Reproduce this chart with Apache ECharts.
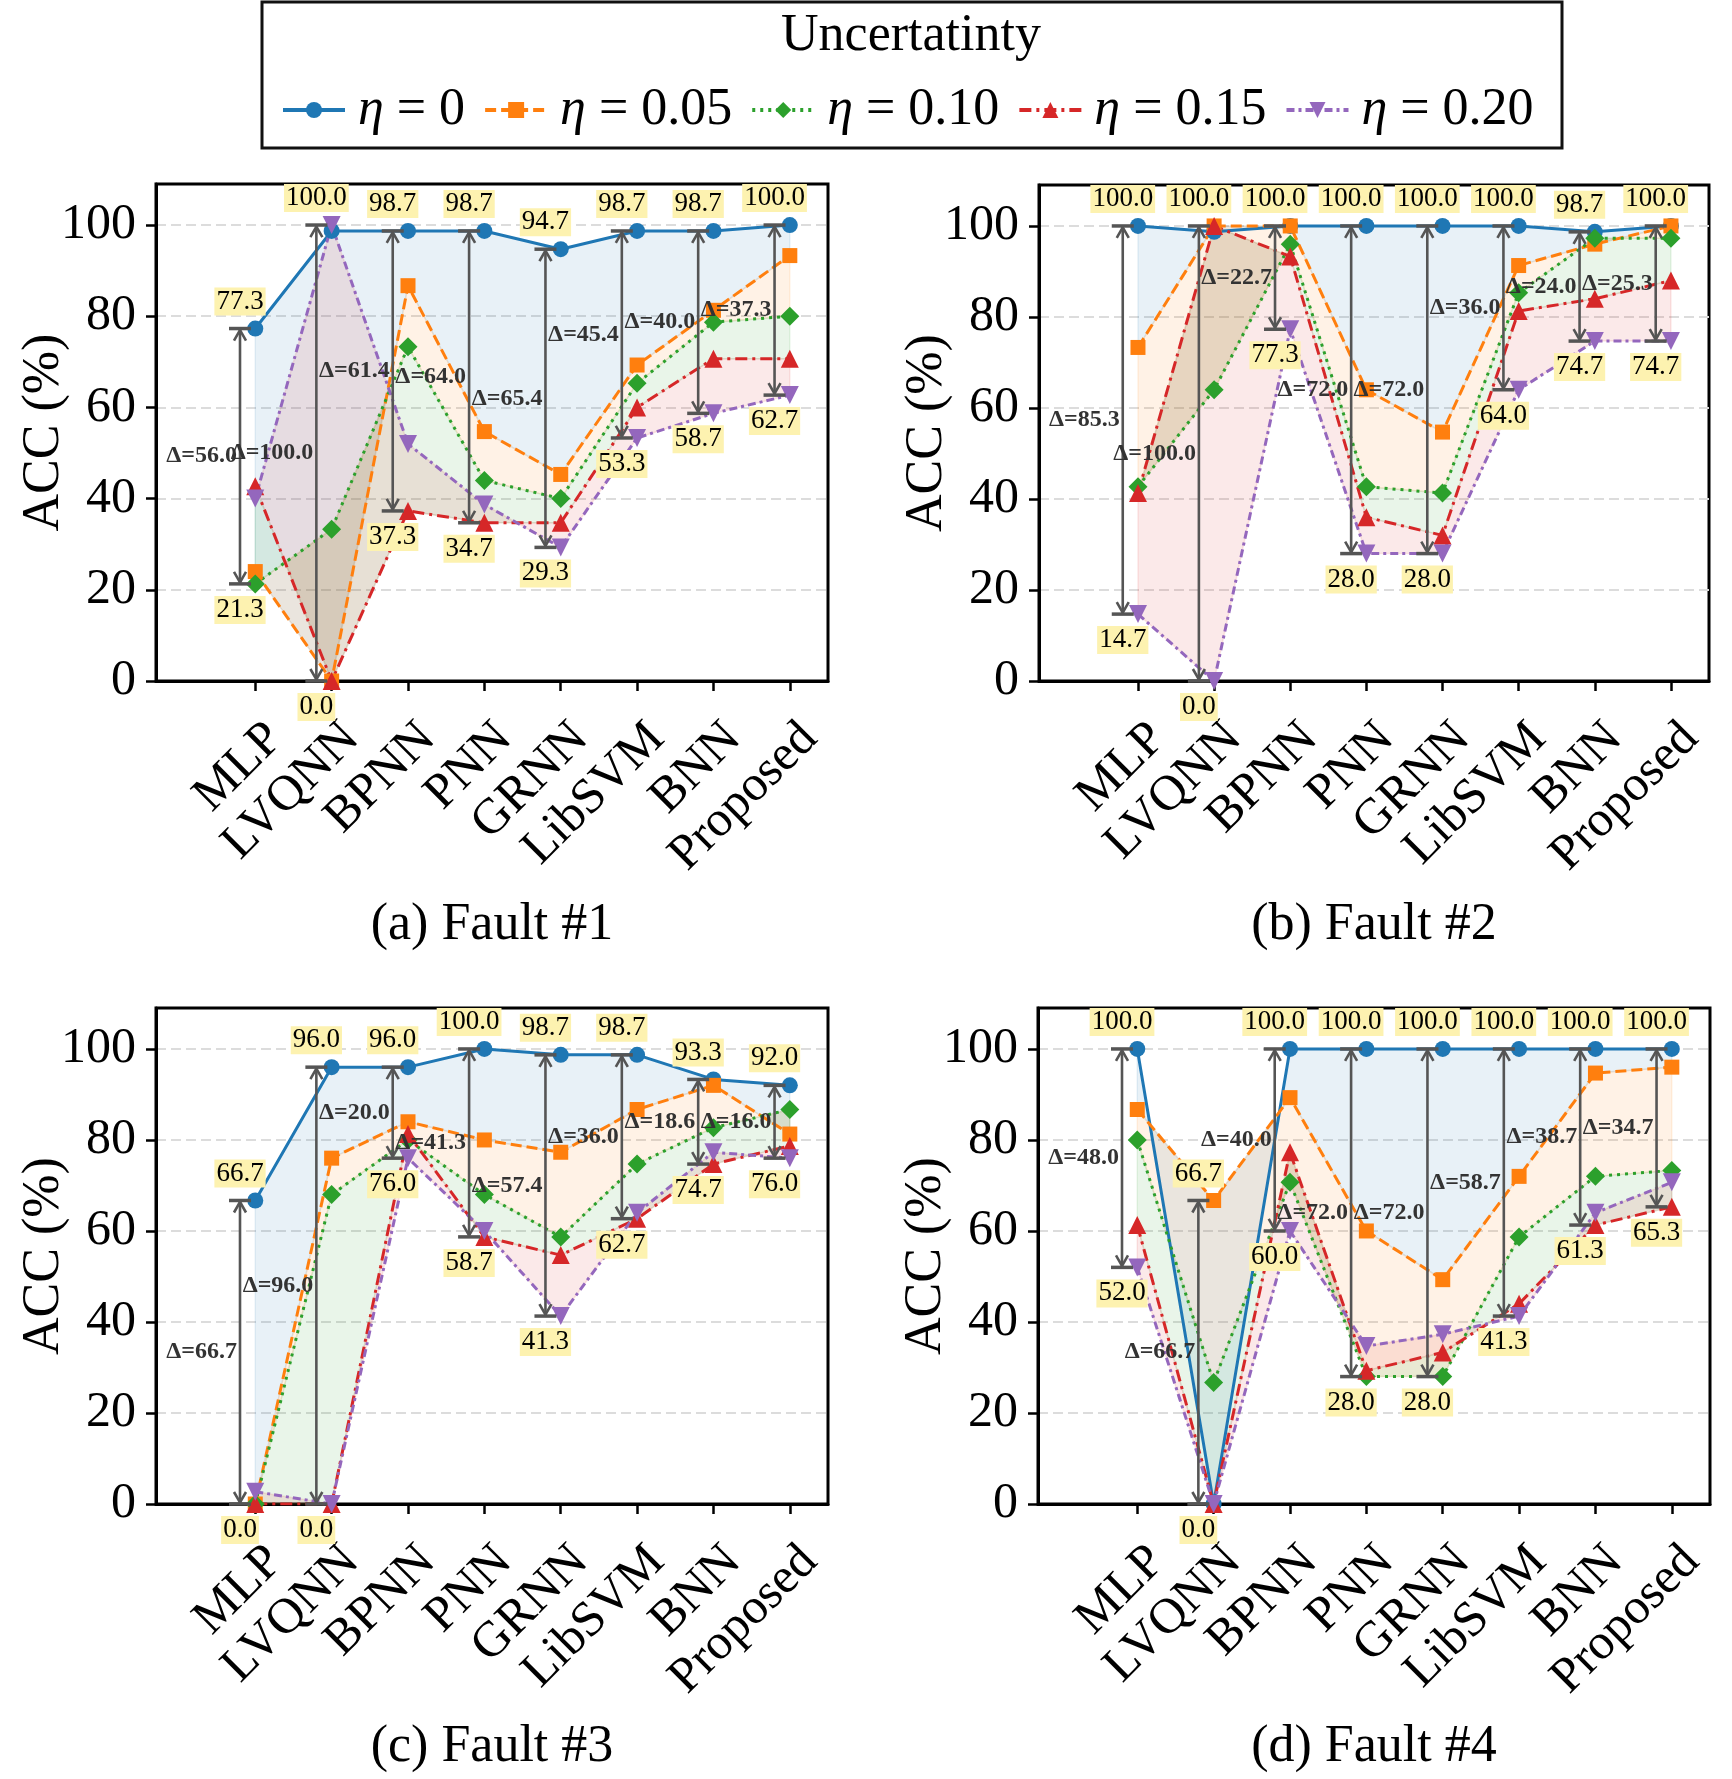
<!DOCTYPE html>
<html><head><meta charset="utf-8">
<script src="https://cdn.jsdelivr.net/npm/echarts@6/dist/echarts.min.js"></script>
<style>html,body{margin:0;padding:0;background:#fff}#c{width:1732px;height:1779px}</style>
</head><body><div id="c"></div><script>
const categories = ['MLP','LVQNN','BPNN','PNN','GRNN','LibSVM','BNN','Proposed'];
const seriesNames = ['η = 0','η = 0.05','η = 0.10','η = 0.15','η = 0.20'];
const yTicks = [0,20,40,60,80,100];
const captions = ['(a) Fault #1','(b) Fault #2','(c) Fault #3','(d) Fault #4'];

const f1_eta000 = [77.3, 98.7, 98.7, 98.7, 94.7, 98.7, 98.7, 100.0];
const f1_eta005 = [24.0, 0.0, 86.7, 54.7, 45.3, 69.3, 81.3, 93.3];
const f1_eta010 = [21.3, 33.3, 73.3, 44.0, 40.0, 65.3, 78.7, 80.0];
const f1_eta015 = [42.7, 0.0, 37.3, 34.7, 34.7, 60.0, 70.7, 70.7];
const f1_eta020 = [40.0, 100.0, 52.0, 38.7, 29.3, 53.3, 58.7, 62.7];

const f2_eta000 = [100.0, 98.7, 100.0, 100.0, 100.0, 100.0, 98.7, 100.0];
const f2_eta005 = [73.3, 100.0, 100.0, 64.0, 54.7, 91.3, 96.0, 100.0];
const f2_eta010 = [42.7, 64.0, 96.0, 42.7, 41.3, 85.3, 97.3, 97.3];
const f2_eta015 = [41.3, 100.0, 93.3, 36.0, 32.0, 81.3, 84.0, 88.0];
const f2_eta020 = [14.7, 0.0, 77.3, 28.0, 28.0, 64.0, 74.7, 74.7];

const f3_eta000 = [66.7, 96.0, 96.0, 100.0, 98.7, 98.7, 93.3, 92.0];
const f3_eta005 = [0.0, 76.0, 84.0, 80.0, 77.3, 86.7, 92.0, 81.3];
const f3_eta010 = [0.0, 68.0, 80.0, 68.0, 58.7, 74.7, 82.7, 86.7];
const f3_eta015 = [0.0, 0.0, 81.3, 58.7, 54.7, 62.7, 74.7, 78.7];
const f3_eta020 = [2.7, 0.0, 76.0, 60.0, 41.3, 64.0, 77.3, 76.0];

const f4_eta000 = [100.0, 0.0, 100.0, 100.0, 100.0, 100.0, 100.0, 100.0];
const f4_eta005 = [86.7, 66.7, 89.3, 60.0, 49.3, 72.0, 94.7, 96.0];
const f4_eta010 = [80.0, 26.7, 70.7, 28.0, 28.0, 58.7, 72.0, 73.3];
const f4_eta015 = [61.3, 0.0, 77.3, 29.3, 33.3, 44.0, 61.3, 65.3];
const f4_eta020 = [52.0, 0.0, 60.0, 34.7, 37.3, 41.3, 64.0, 70.7];

const panelData = [
  [f1_eta000, f1_eta005, f1_eta010, f1_eta015, f1_eta020],
  [f2_eta000, f2_eta005, f2_eta010, f2_eta015, f2_eta020],
  [f3_eta000, f3_eta005, f3_eta010, f3_eta015, f3_eta020],
  [f4_eta000, f4_eta005, f4_eta010, f4_eta015, f4_eta020]
];

// styling
const FONT = '"Liberation Serif", "Times New Roman", serif';
const colors = ['#1f77b4','#ff7f0e','#2ca02c','#d62728','#9467bd'];
const fillColors = ['rgba(31,119,180,0.1)','rgba(255,127,14,0.1)','rgba(44,160,44,0.1)','rgba(214,39,40,0.1)'];
const symbols = ['circle','rect','diamond','triangle','triangle'];
const symbolRot = [0,0,0,0,180];
const symbolSizes = [16,15,19,18,18];
const dashes = ['solid',[11,5],[3,5],[12,5,3,5],[8,4,3,4]];
const layout = [
  {left:156, top:184, width:672, height:497, cx:492, cy:925},
  {left:1039, top:185, width:670, height:496, cx:1374, cy:925},
  {left:156, top:1008, width:672, height:496, cx:492, cy:1747},
  {left:1038, top:1008, width:672, height:496, cx:1374, cy:1747}
];
const LABEL_SHIFT = 0.26;

function fillRender(S, k) {
  return function (params, api) {
    const A = S[k], B = S[k + 1];
    const pts = A.map((v, i) => api.coord([i, v]))
      .concat(B.map((v, i) => api.coord([i, v])).reverse());
    return {type: 'polygon', shape: {points: pts},
      style: {fill: fillColors[k], stroke: fillColors[k], lineWidth: 1.5}};
  };
}

function annotRender(S) {
  return function (params, api) {
    const i = api.value(0);
    const vals = S.map(s => s[i]);
    const mx = Math.max(...vals), mn = Math.min(...vals);
    const ax = i - 0.2;
    const t = api.coord([ax, mx]), b = api.coord([ax, mn]);
    const x = t[0];
    const g = '#555555';
    const hl = 12, hw = 6, cap = 11;
    const ch = [];
    ch.push({type: 'line', shape: {x1: x, y1: t[1] + 1, x2: x, y2: b[1] - 1}, style: {stroke: g, lineWidth: 2.6}});
    ch.push({type: 'polyline', shape: {points: [[x - hw, t[1] + hl], [x, t[1] + 1.5], [x + hw, t[1] + hl]]}, style: {stroke: g, lineWidth: 2.6, fill: null}});
    ch.push({type: 'polyline', shape: {points: [[x - hw, b[1] - hl], [x, b[1] - 1.5], [x + hw, b[1] - hl]]}, style: {stroke: g, lineWidth: 2.6, fill: null}});
    ch.push({type: 'line', shape: {x1: x - cap, y1: t[1], x2: x + cap, y2: t[1]}, style: {stroke: g, lineWidth: 3.5}});
    ch.push({type: 'line', shape: {x1: x - cap, y1: b[1], x2: x + cap, y2: b[1]}, style: {stroke: g, lineWidth: 3.5}});
    ch.push({type: 'text', z2: 10, style: {text: mx.toFixed(1), x: x, y: t[1] - 27, align: 'center', verticalAlign: 'middle',
      fontSize: 27, fontFamily: FONT, fill: '#000', backgroundColor: '#fdf2b0', padding: [1, 2, 0, 2], lineHeight: 27}});
    ch.push({type: 'text', z2: 10, style: {text: mn.toFixed(1), x: x, y: b[1] + 26, align: 'center', verticalAlign: 'middle',
      fontSize: 27, fontFamily: FONT, fill: '#000', backgroundColor: '#fdf2b0', padding: [1, 2, 0, 2], lineHeight: 27}});
    ch.push({type: 'text', z2: 10, style: {text: 'Δ=' + (mx - mn).toFixed(1), x: x - 3, y: (t[1] + b[1]) / 2, align: 'right', verticalAlign: 'middle',
      fontSize: 24, fontWeight: 'bold', fontFamily: FONT, fill: '#333'}});
    return {type: 'group', children: ch};
  };
}

const grids = [], xAxes = [], yAxes = [], series = [], graphics = [];
layout.forEach((L, p) => {
  grids.push({left: L.left, top: L.top, width: L.width, height: L.height, show: true, borderColor: '#000', borderWidth: 3, backgroundColor: 'transparent'});
  xAxes.push({type: 'value', gridIndex: p, min: -1.3, max: 7.5,
    axisLine: {show: true, onZero: false, lineStyle: {color: '#000', width: 3}},
    axisTick: {show: true, length: 10, lineStyle: {color: '#000', width: 2.5}, customValues: categories.map((c, i) => i)},
    axisLabel: {show: true, rotate: 45, margin: 50, fontSize: 50, fontFamily: FONT, color: '#000',
      customValues: categories.map((c, i) => i + LABEL_SHIFT),
      formatter: v => categories[Math.round(v - LABEL_SHIFT)] || ''},
    splitLine: {show: false}});
  yAxes.push({type: 'value', gridIndex: p, min: 0, max: 109, interval: 20,
    name: 'ACC (%)', nameLocation: 'middle', nameGap: 86, nameMoveOverlap: false,
    nameTextStyle: {fontSize: 52, fontFamily: FONT, color: '#000'},
    axisLine: {show: true, onZero: false, lineStyle: {color: '#000', width: 3}},
    axisTick: {show: true, length: 10, lineStyle: {color: '#000', width: 2.5}, customValues: yTicks},
    axisLabel: {fontSize: 50, fontFamily: FONT, color: '#000', margin: 20, customValues: yTicks},
    splitLine: {show: true, lineStyle: {color: '#dcdcdc', width: 1.8, type: [10, 5]}}});
  const S = panelData[p];
  for (let k = 0; k < 4; k++) {
    series.push({type: 'custom', xAxisIndex: p, yAxisIndex: p, z: 1, silent: true,
      data: [[0, 0]], renderItem: fillRender(S, k)});
  }
  S.forEach((arr, s) => {
    series.push({type: 'line', name: seriesNames[s], xAxisIndex: p, yAxisIndex: p, z: 2,
      data: arr.map((v, i) => [i, v]),
      symbol: symbols[s], symbolSize: symbolSizes[s], symbolRotate: symbolRot[s],
      itemStyle: {color: colors[s]},
      lineStyle: {color: colors[s], width: 3, type: dashes[s]},
      animation: false});
  });
  series.push({type: 'custom', xAxisIndex: p, yAxisIndex: p, z: 3, silent: true,
    data: categories.map((c, i) => [i, 0]), renderItem: annotRender(S)});
  graphics.push({type: 'text', style: {text: captions[p], x: L.cx, y: L.cy, align: 'center', verticalAlign: 'middle',
    fontSize: 52, fontFamily: FONT, fill: '#000'}});
});

graphics.push({type: 'rect', shape: {x: 262, y: 2, width: 1300, height: 146},
  style: {fill: 'none', stroke: '#111', lineWidth: 3}});
graphics.push({type: 'text', style: {text: 'Uncertatinty', x: 911, y: 36, align: 'center', verticalAlign: 'middle',
  fontSize: 52, fontFamily: FONT, fill: '#000'}});

const chart = echarts.init(document.getElementById('c'), null, {renderer: 'canvas'});
chart.setOption({
  backgroundColor: '#fff',
  animation: false,
  grid: grids, xAxis: xAxes, yAxis: yAxes, series: series,
  graphic: graphics,
  legend: {data: seriesNames, left: 281, top: 84, itemWidth: 62, itemHeight: 20, itemGap: 18, padding: 0,
    selectedMode: false,
    lineStyle: {width: 4},
    formatter: n => n.replace('η', '{i|η}'),
    textStyle: {fontFamily: FONT, fontSize: 52, color: '#000', padding: [0, 0, 0, 8],
      rich: {i: {fontFamily: FONT, fontStyle: 'italic', fontSize: 52, color: '#000'}}}}
});
</script></body></html>
